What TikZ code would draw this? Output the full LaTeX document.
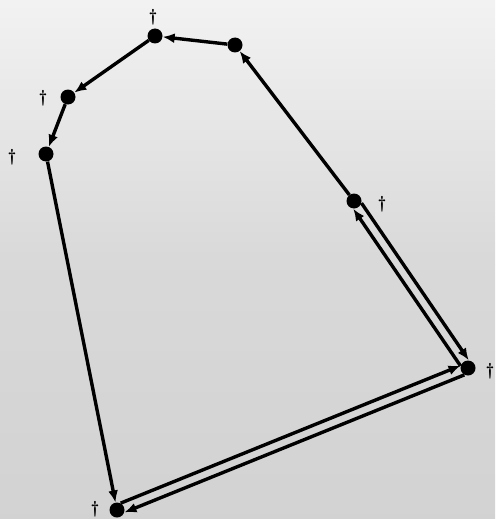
\documentclass[tikz,border=0pt]{standalone}
\usepackage{amsmath}
\usetikzlibrary{arrows.meta,calc}
\begin{document}
\begin{tikzpicture}[x=1pt,y=-1pt,
  dot/.style={circle,fill=black,inner sep=0pt,minimum size=15pt},
  edge/.style={line width=3.4pt,-{Latex[length=12pt,width=10pt]}},
  pedge/.style={line width=3.4pt,-{Latex[length=12pt,width=10pt]},shorten >=6pt,shorten <=6pt},
  dagg/.style={font=\LARGE\bfseries,inner sep=0pt}]
\useasboundingbox (0,0) rectangle (495,519);
\shade[top color=gray!10,bottom color=gray!35,middle color=gray!30] (0,0) rectangle (495,519);
% nodes
\node[dot] (A) at (155,36) {};
\node[dot] (B) at (235,45) {};
\node[dot] (C) at (68,97) {};
\node[dot] (D) at (46,154) {};
\node[dot] (E) at (354,201) {};
\node[dot] (F) at (468,368) {};
\node[dot] (G) at (117,510) {};
% daggers
\node[dagg] (dA) at (153,17) {\textdagger};
\node[dagg] (dC) at (43,98) {\textdagger};
\node[dagg] (dD) at (12,157) {\textdagger};
\node[dagg] (dE) at (382,204) {\textdagger};
\node[dagg] (dF) at (490,371) {\textdagger};
\node[dagg] (dG) at (95,509) {\textdagger};
% edges
\draw[edge] (B) -- (A);
\draw[edge] (A) -- (C);
\draw[edge] (C) -- (D);
\draw[edge] (D) -- (G);
\draw[edge] (E) -- (B);
% double edges E-F
\draw[pedge] ($(F)!5pt!90:(E)$) -- ($(E)!5pt!-90:(F)$);
\draw[pedge] ($(E)!5pt!90:(F)$) -- ($(F)!5pt!-90:(E)$);
% double edges F-G
\draw[pedge] ($(G)!5pt!90:(F)$) -- ($(F)!5pt!-90:(G)$);
\draw[pedge] ($(F)!5pt!90:(G)$) -- ($(G)!5pt!-90:(F)$);
\end{tikzpicture}
\end{document}
